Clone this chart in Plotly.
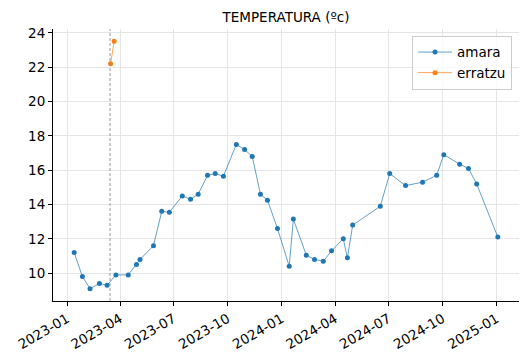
import pandas as pd
import plotly.graph_objects as go

amara_dates = ["2023-01-13", "2023-01-27", "2023-02-09", "2023-02-25", "2023-03-10",
               "2023-03-25", "2023-04-15", "2023-04-29", "2023-05-05", "2023-05-28",
               "2023-06-11", "2023-06-24", "2023-07-16", "2023-07-30", "2023-08-12",
               "2023-08-28", "2023-09-10", "2023-09-24", "2023-10-16", "2023-10-30",
               "2023-11-12", "2023-11-26", "2023-12-08", "2023-12-25", "2024-01-14",
               "2024-01-21", "2024-02-12", "2024-02-26", "2024-03-12", "2024-03-26",
               "2024-04-15", "2024-04-22", "2024-05-01", "2024-06-17", "2024-07-03",
               "2024-07-30", "2024-08-28", "2024-09-21", "2024-10-03", "2024-10-30",
               "2024-11-14", "2024-11-28", "2025-01-03"]
amara_temp = [11.2, 9.8, 9.1, 9.4, 9.3,
              9.9, 9.9, 10.5, 10.8, 11.6,
              13.6, 13.55, 14.5, 14.3, 14.6,
              15.7, 15.8, 15.65, 17.5, 17.2,
              16.8, 14.6, 14.25, 12.6, 10.4,
              13.15, 11.05, 10.8, 10.7, 11.3,
              12.0, 10.9, 12.8, 13.9, 15.8,
              15.1, 15.3, 15.7, 16.9, 16.35,
              16.1, 15.2, 12.1]

erratzu_dates = ["2023-03-16", "2023-03-22"]
erratzu_temp = [22.2, 23.5]

marker_date = "2023-03-15"

tick_dates = ["2023-01-01", "2023-04-01", "2023-07-01", "2023-10-01", "2024-01-01",
              "2024-04-01", "2024-07-01", "2024-10-01", "2025-01-01"]
tick_labels = ["2023-01", "2023-04", "2023-07", "2023-10", "2024-01",
               "2024-04", "2024-07", "2024-10", "2025-01"]
y_ticks = [10, 12, 14, 16, 18, 20, 22, 24]

title_text = "TEMPERATURA (ºc)"

# axis range with matplotlib-like 5% margins
all_d = pd.to_datetime(amara_dates + erratzu_dates)
dmin, dmax = all_d.min(), all_d.max()
dspan = dmax - dmin
x_range = [dmin - 0.05 * dspan, dmax + 0.05 * dspan]
all_v = amara_temp + erratzu_temp
vmin, vmax = min(all_v), max(all_v)
vspan = vmax - vmin
y_range = [vmin - 0.05 * vspan, vmax + 0.05 * vspan]

BLUE = "#1f77b4"
ORANGE = "#ff7f0e"
FONT = "DejaVu Sans"
FS = 13.5

fig = go.Figure()
fig.add_trace(go.Scatter(
    x=pd.to_datetime(amara_dates), y=amara_temp, name="amara", mode="lines+markers",
    line=dict(color=BLUE, width=0.7), marker=dict(color=BLUE, size=5),
))
fig.add_trace(go.Scatter(
    x=pd.to_datetime(erratzu_dates), y=erratzu_temp, name="erratzu", mode="lines+markers",
    line=dict(color=ORANGE, width=0.7), marker=dict(color=ORANGE, size=5),
))

fig.add_shape(type="line", xref="x", yref="paper",
              x0=marker_date, x1=marker_date, y0=0, y1=1,
              line=dict(color="gray", width=0.8, dash="3px,2px"), layer="above")

axis_common = dict(
    showgrid=True, gridcolor="#e5e5e5", gridwidth=0.8,
    showline=True, linecolor="black", linewidth=1,
    ticks="outside", ticklen=4, tickcolor="black", tickwidth=1,
    zeroline=False, automargin=False,
    tickfont=dict(family=FONT, size=FS, color="black"),
)

fig.update_layout(
    width=527, height=361,
    margin=dict(l=53, r=8, t=29, b=60, pad=0, autoexpand=False),
    paper_bgcolor="white", plot_bgcolor="white",
    font=dict(family=FONT, size=FS, color="black"),
    title=dict(text=title_text, x=0.5, xref="paper", xanchor="center",
               y=1 - 17 / 361, yref="container", yanchor="middle",
               font=dict(family=FONT, size=FS, color="black")),
    showlegend=True,
    legend=dict(x=0.985, y=0.975, xanchor="right", yanchor="top",
                bgcolor="rgba(255,255,255,0.8)", bordercolor="#cccccc", borderwidth=1,
                font=dict(family=FONT, size=FS, color="black"),
                itemwidth=34, tracegroupgap=0),
    xaxis=dict(type="date", range=x_range, tickvals=pd.to_datetime(tick_dates),
               ticktext=tick_labels, tickangle=-30, **axis_common),
    yaxis=dict(range=y_range, tickvals=y_ticks, **axis_common),
)

fig.write_html("out.html", config={"displayModeBar": False},
               post_script="document.body.style.margin='0';")
